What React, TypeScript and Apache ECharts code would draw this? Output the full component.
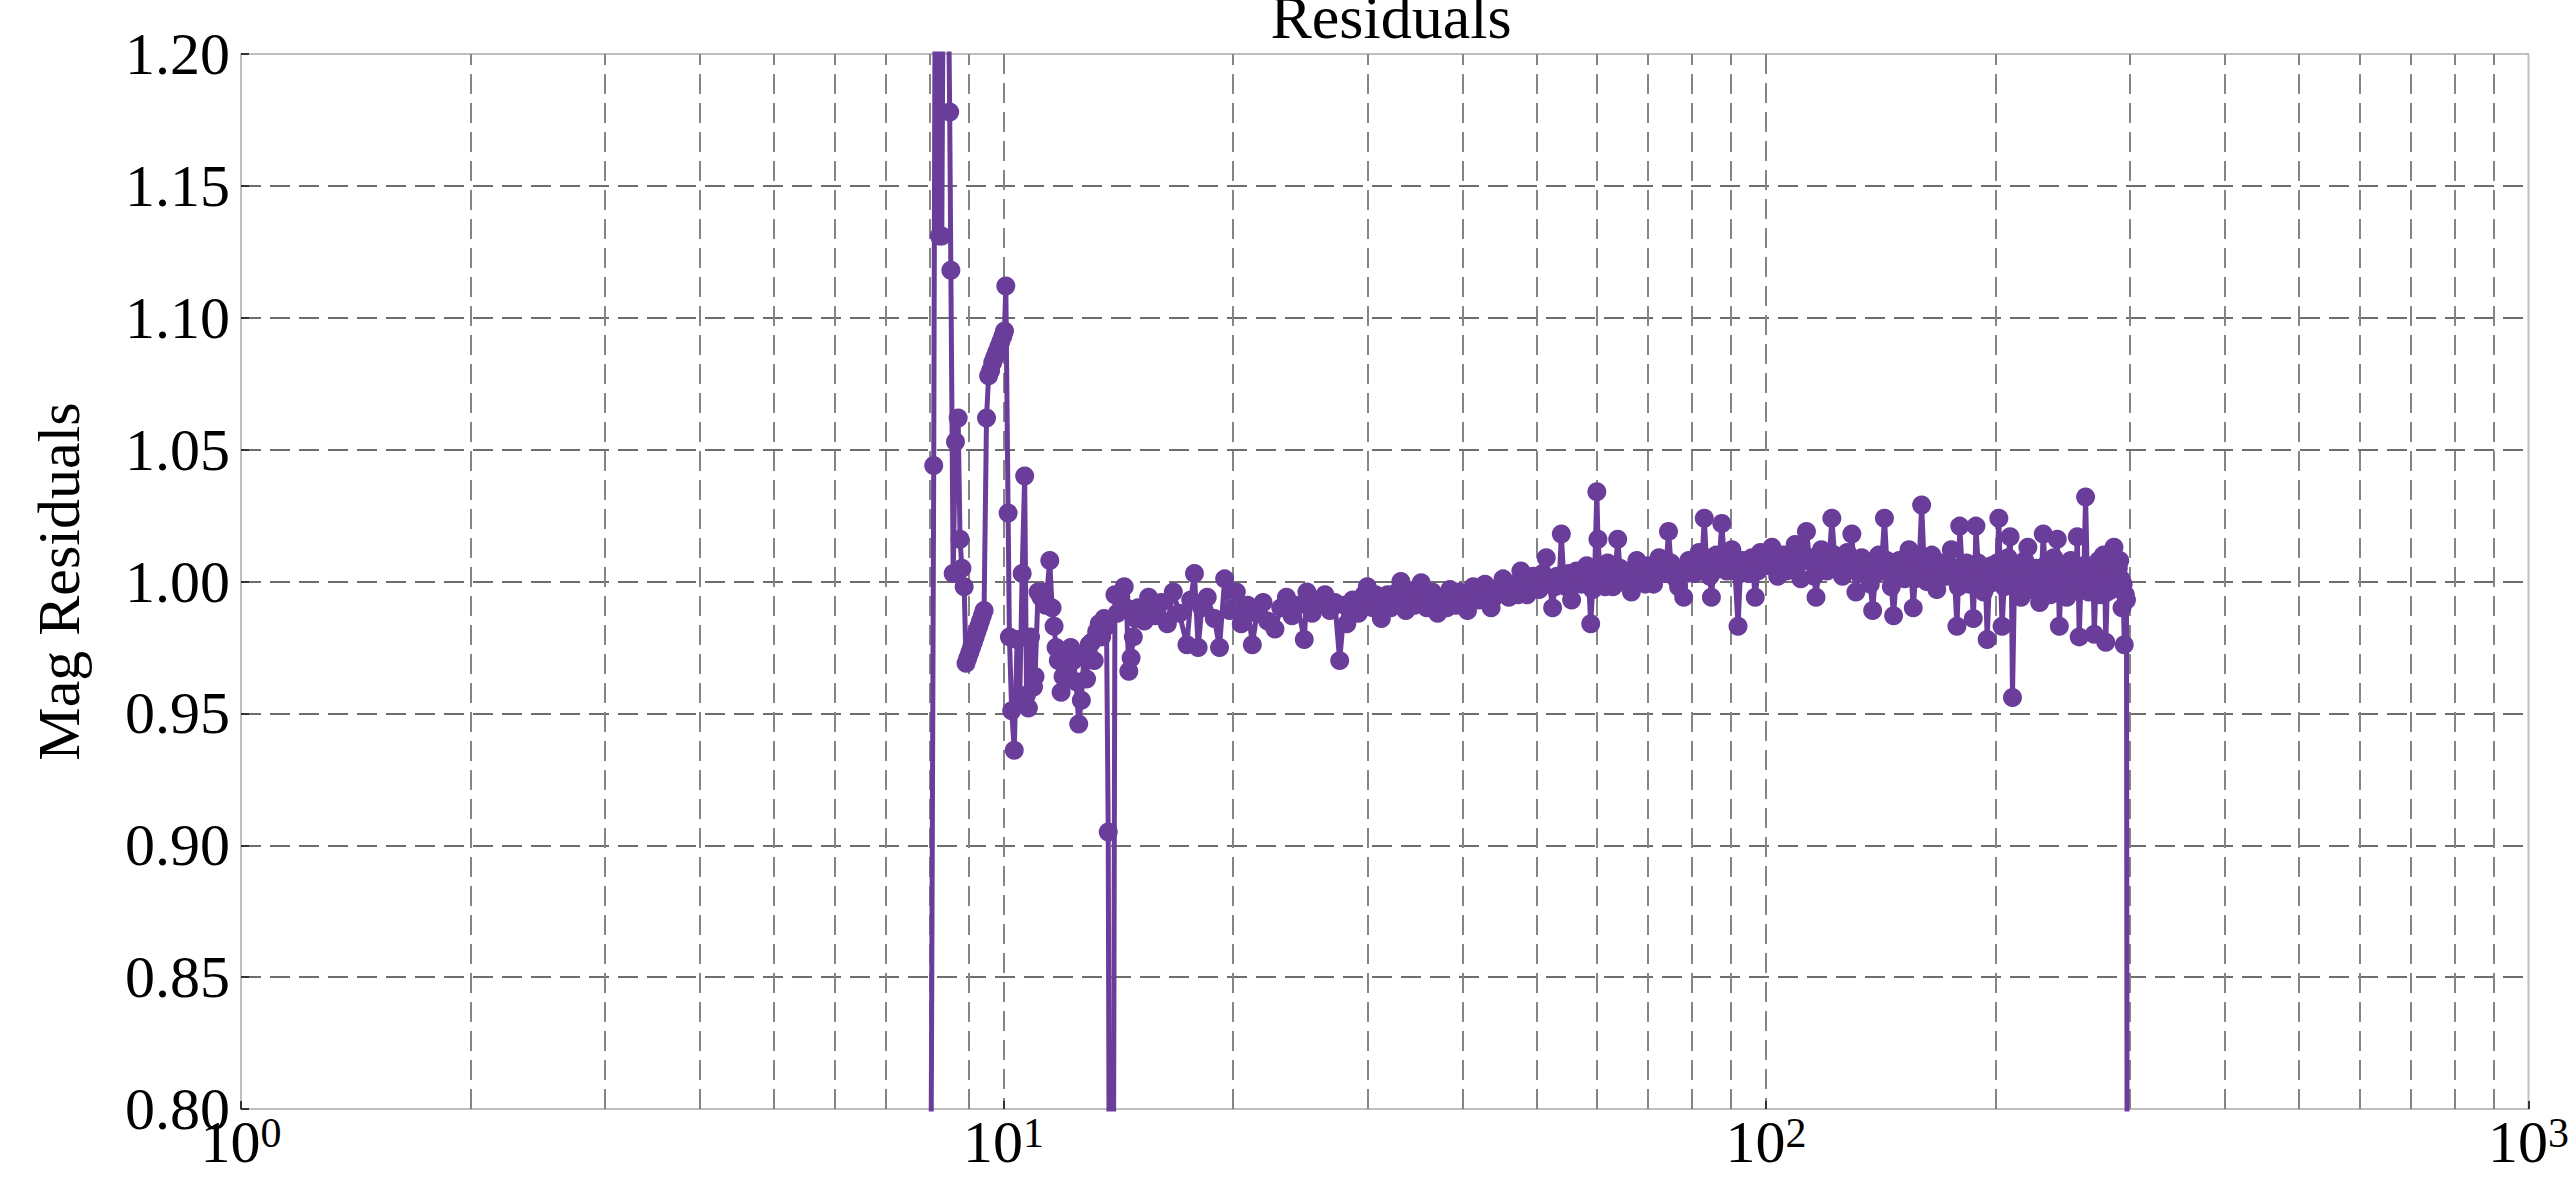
import React, { useEffect, useRef } from "react";
import * as echarts from "echarts";

const chartTitle = "Residuals";
const yAxisTitle = "Mag Residuals";

// ---- low-x part (x < 15): few points, large scatter ----
const lowX = [
  7.98, 8.1, 8.17, 8.24, 8.3, 8.38, 8.5, 8.53, 8.59, 8.65, 8.72, 8.77, 8.82, 8.88,
  8.93, 8.98, 9.03, 9.08, 9.13, 9.18, 9.23, 9.28, 9.33, 9.38, 9.43,
  9.5, 9.56, 9.62, 9.68, 9.74, 9.8, 9.86, 9.92, 9.98, 10.03, 10.07,
  10.14, 10.18, 10.25, 10.33, 10.42, 10.5, 10.58, 10.66, 10.72, 10.78, 10.85, 10.95,
  11.0, 11.1, 11.2, 11.28, 11.36, 11.5, 11.58, 11.65, 11.72, 11.8, 11.9, 11.97,
  12.05, 12.15, 12.25, 12.35, 12.45, 12.55, 12.65, 12.75, 12.85, 12.95,
  13.05, 13.15, 13.25, 13.35, 13.45, 13.55, 13.65, 13.72, 13.85,
  14.0, 14.1, 14.25, 14.4, 14.5, 14.6, 14.7, 14.8, 14.9,
];
const lowY = [
  0.55, 1.044, 1.42, 1.131, 1.131, 1.36, 1.178, 1.118, 1.003, 1.053, 1.062, 1.016, 1.005, 0.998,
  0.969, 0.971, 0.973, 0.975, 0.977, 0.979, 0.981, 0.983, 0.985, 0.987, 0.989,
  1.062, 1.078, 1.08, 1.083, 1.085, 1.087, 1.089, 1.091, 1.093, 1.095, 1.112,
  1.026, 0.979, 0.951, 0.936, 0.978, 0.954, 1.003, 1.04, 0.957, 0.952, 0.979, 0.96,
  0.964, 0.996, 0.994, 0.996, 0.991, 1.008, 0.99, 0.983, 0.975, 0.97, 0.958, 0.964,
  0.972, 0.968, 0.975, 0.97, 0.962, 0.946, 0.955, 0.972, 0.963, 0.976,
  0.977, 0.97, 0.981, 0.984, 0.979, 0.986, 0.983, 0.905, 0.45,
  0.995, 0.988, 0.994, 0.998, 0.99, 0.966, 0.971, 0.979, 0.986,
];

// ---- middle part (15 <= x < 30) ----
const midX = [
  15.0, 15.3, 15.5, 15.8, 16.1, 16.4, 16.7, 17.0, 17.4, 17.6, 17.8, 18.0, 18.2, 18.5,
  18.9, 19.2, 19.5, 19.8, 20.2, 20.5, 20.9, 21.2, 21.5, 21.9, 22.2, 22.7, 23.1, 23.5,
  23.9, 24.3, 24.8, 25.0, 25.4, 25.8, 26.4, 26.8, 27.2, 27.6, 28.0, 28.2, 28.7, 29.2, 29.7,
];
const midY = [
  0.99, 0.985, 0.994, 0.987, 0.992, 0.984, 0.996, 0.988, 0.976, 0.993, 1.003, 0.975, 0.99, 0.994,
  0.986, 0.975, 1.001, 0.989, 0.996, 0.984, 0.991, 0.976, 0.988, 0.992, 0.985, 0.982, 0.99, 0.994,
  0.987, 0.991, 0.978, 0.996, 0.988, 0.993, 0.995, 0.989, 0.992, 0.97, 0.991, 0.984, 0.993, 0.988, 0.995,
];

// ---- high part (x >= 30): dense band ----
const highX = [
  30.0, 30.25, 30.5, 30.75, 31.0, 31.15, 31.3, 31.6, 31.9, 32.2, 32.5, 32.85, 33.2, 33.45,
  33.7, 34.0, 34.3, 34.6, 34.9, 35.1, 35.3, 35.6, 35.9, 36.2, 36.5, 36.8, 37.1, 37.45,
  37.8, 38.15, 38.5, 38.85, 39.2, 39.55, 39.9, 40.25, 40.6, 40.95, 41.3, 41.65, 42.0, 42.4,
  42.8, 43.2, 43.6, 44.0, 44.4, 44.8, 45.2, 45.6, 46.0, 46.45, 46.9, 47.3, 47.7, 48.15,
  48.6, 49.05, 49.5, 49.95, 50.4, 50.95, 51.5, 52.0, 52.5, 52.85, 53.2, 53.55, 53.9, 54.3,
  54.7, 55.15, 55.6, 56.0, 56.4, 56.85, 57.3, 57.75, 58.2, 58.55, 58.9, 59.25, 59.6, 60.0,
  60.2, 60.6, 61.0, 61.5, 62.0, 62.5, 63.0, 63.45, 63.9, 64.35, 64.8, 65.3, 65.8, 66.2,
  66.6, 67.15, 67.7, 68.3, 68.9, 69.45, 70.0, 70.6, 71.2, 71.8, 72.4, 73.0, 73.6, 74.05,
  74.5, 75.05, 75.6, 76.2, 76.8, 77.4, 78.0, 78.6, 79.2, 79.85, 80.5, 81.1, 81.7, 82.35,
  83.0, 83.5, 84.0, 84.4, 84.8, 85.4, 86.0, 86.75, 87.5, 88.15, 88.8, 89.5, 90.2, 91.05,
  91.9, 92.55, 93.2, 94.0, 94.8, 95.8, 96.8, 97.55, 98.3, 99.15, 100.0, 100.9, 101.8, 102.7,
  103.6, 104.5, 105.4, 106.35, 107.3, 108.25, 109.2, 110.15, 111.1, 112.05, 113.0, 114.0, 115.0, 115.65,
  116.3, 117.25, 118.2, 119.2, 120.2, 121.1, 122.0, 123.0, 124.0, 125.0, 126.0, 126.9, 127.8, 128.7,
  129.6, 130.4, 131.2, 132.35, 133.5, 134.75, 136.0, 137.0, 138.0, 139.25, 140.5, 141.75, 143.0, 144.0,
  145.0, 146.0, 147.0, 148.25, 149.5, 150.75, 152.0, 153.0, 154.0, 155.0, 156.0, 157.0, 158.0, 159.0,
  160.0, 161.25, 162.5, 163.75, 165.0, 166.25, 167.5, 168.75, 170.0, 171.25, 172.5, 173.75, 175.0, 176.5,
  178.0, 178.75, 179.5, 180.75, 182.0, 183.25, 184.5, 185.75, 187.0, 187.75, 188.5, 189.75, 191.0, 192.0,
  193.0, 194.0, 195.0, 196.25, 197.5, 198.75, 200.0, 201.0, 202.0, 203.0, 204.0, 205.25, 206.5, 207.75,
  209.0, 209.75, 210.5, 211.75, 213.0, 214.5, 216.0, 217.25, 218.5, 219.5, 220.5, 221.75, 223.0, 224.5,
  226.0, 227.25, 228.5, 229.75, 231.0, 232.25, 233.5, 234.75, 236.0, 237.25, 238.5, 239.75, 241.0, 241.75,
  242.5, 243.75, 245.0, 246.5, 248.0, 249.5, 251.0, 252.5, 254.0, 255.0, 256.0, 256.75, 257.5, 258.75,
  260.0, 261.25, 262.5, 263.75, 265.0, 266.25, 267.5, 268.5, 269.5, 270.75, 272.0, 273.25, 274.5, 275.75,
  277.0, 278.0, 279.0, 280.25, 281.5, 282.75, 284.0, 285.0, 286.0, 287.25, 288.5, 289.75, 291.0, 292.0,
  293.0, 294.0, 295.0, 296.0, 297.0, 298.0,
];
const highY = [
  0.998, 0.992, 0.99, 0.995, 0.994, 0.991, 0.986, 0.993, 0.995, 0.99, 0.991, 0.996, 1.0, 0.993,
  0.989, 0.994, 0.996, 0.991, 0.992, 0.997, 0.9995, 0.993, 0.99, 0.995, 0.996, 0.992, 0.988, 0.993,
  0.994, 0.99, 0.997, 0.993, 0.991, 0.996, 0.995, 0.992, 0.989, 0.995, 0.998, 0.994, 0.993, 0.997,
  0.999, 0.995, 0.99, 0.994, 0.996, 0.998, 1.001, 0.996, 0.994, 0.998, 0.999, 0.995, 1.004, 0.999,
  0.995, 1.0, 1.002, 0.998, 0.997, 1.003, 1.009, 0.999, 0.99, 0.998, 1.002, 0.999, 1.018, 1.001,
  0.998, 1.003, 0.993, 0.999, 1.004, 1.0, 0.999, 1.003, 1.006, 0.999, 0.984, 0.997, 1.003, 1.034,
  1.016, 1.004, 1.001, 0.998, 1.007, 1.002, 0.998, 1.004, 1.016, 1.005, 1.003, 1.0, 0.999, 1.004,
  0.996, 1.002, 1.008, 1.004, 1.002, 0.999, 1.006, 1.002, 0.999, 1.005, 1.009, 1.005, 1.003, 1.008,
  1.019, 1.007, 1.005, 1.001, 0.998, 1.004, 0.994, 1.003, 1.008, 1.005, 1.003, 1.007, 1.011, 1.006,
  1.024, 1.009, 1.006, 1.002, 0.994, 1.004, 1.01, 1.006, 1.022, 1.009, 1.004, 1.008, 1.012, 1.004,
  0.983, 1.003, 1.008, 1.005, 1.003, 1.009, 0.994, 1.004, 1.011, 1.007, 1.006, 1.01, 1.013, 1.006,
  1.002, 1.008, 1.01, 1.004, 1.005, 1.01, 1.014, 1.007, 1.001, 1.008, 1.019, 1.009, 1.007, 1.002,
  0.994, 1.004, 1.012, 1.006, 1.004, 1.009, 1.024, 1.01, 1.008, 1.004, 1.002, 1.006, 1.011, 1.008,
  1.018, 1.005, 0.996, 1.003, 1.009, 1.006, 1.004, 0.999, 0.989, 1.003, 1.01, 1.006, 1.024, 1.008,
  1.003, 0.998, 0.987, 1.002, 1.008, 1.004, 1.001, 1.006, 1.012, 1.003, 0.99, 1.001, 1.006, 1.01,
  1.029, 1.006, 1.0, 1.005, 1.01, 1.004, 0.997, 1.003, 1.007, 1.003, 1.002, 1.006, 1.012, 1.004,
  0.983, 0.998, 1.021, 1.006, 1.003, 1.007, 0.999, 1.004, 0.986, 0.999, 1.021, 1.007, 1.004, 1.0,
  0.996, 1.001, 0.978, 0.999, 1.006, 1.003, 1.001, 1.007, 1.024, 1.002, 0.983, 0.998, 1.004, 1.009,
  1.017, 1.004, 0.956, 0.999, 1.002, 1.006, 0.994, 1.002, 1.008, 1.004, 1.013, 1.003, 0.997, 1.004,
  1.005, 1.0, 0.992, 1.003, 1.018, 1.006, 1.0, 1.004, 0.995, 1.002, 1.009, 1.004, 1.016, 1.001,
  0.983, 0.999, 1.003, 1.006, 0.994, 1.001, 1.008, 1.003, 0.998, 1.005, 1.017, 1.0, 0.979, 0.998,
  1.002, 1.006, 1.032, 1.004, 0.996, 1.002, 1.006, 1.0, 0.98, 0.998, 1.004, 1.008, 0.995, 1.002,
  1.01, 1.003, 0.977, 0.996, 1.003, 1.007, 0.997, 1.004, 1.013, 1.003, 0.998, 1.005, 1.008, 1.001,
  0.99, 0.999, 0.976, 0.995, 0.993, 0.6,
];

// minor (log) grid positions between the decades
const minorGridX = [
  2, 3, 4, 5, 6, 7, 8, 9,
  20, 30, 40, 50, 60, 70, 80, 90,
  200, 300, 400, 500, 600, 700, 800, 900,
];

const yMin = 0.8;
const yMax = 1.2;
const yStep = 0.05;
const xMin = 1;
const xMax = 1000;

const PURPLE = "#6a3d9a";
const GRID_GRAY = "#858585";
const FONT = "'Liberation Serif', 'DejaVu Serif', serif";

export default function App() {
  const ref = useRef<HTMLDivElement>(null);

  useEffect(() => {
    document.body.style.margin = "0";
    document.body.style.overflow = "hidden";
    const chart = echarts.init(ref.current as HTMLDivElement, null, { renderer: "svg" });
    const xs = [...lowX, ...midX, ...highX];
    const ys = [...lowY, ...midY, ...highY];
    const data = xs.map((x, i) => [x, ys[i]]);
    chart.setOption({
      animation: false,
      backgroundColor: "#ffffff",
      title: {
        text: chartTitle,
        left: 1391,
        textAlign: "center",
        top: -14,
        padding: 0,
        textStyle: { fontFamily: FONT, fontSize: 62, fontWeight: "normal", color: "#000" },
      },
      grid: {
        left: 241,
        right: 31,
        top: 54,
        bottom: 68,
        show: true,
        borderColor: "#bfbfbf",
        borderWidth: 2,
        backgroundColor: "transparent",
      },
      xAxis: {
        type: "log",
        logBase: 10,
        min: xMin,
        max: xMax,
        axisLine: { show: false },
        axisTick: { show: true, inside: true, length: 8, lineStyle: { color: "#333", width: 2 } },
        axisLabel: {
          showMinLabel: true,
          showMaxLabel: true,
          margin: 3,
          color: "#000",
          formatter: (v: number) => `{b|10}{s|${Math.round(Math.log10(v))}}`,
          rich: {
            b: { fontFamily: FONT, fontSize: 60, lineHeight: 60, color: "#000" },
            s: { fontFamily: FONT, fontSize: 42, lineHeight: 42, color: "#000", verticalAlign: "top" },
          },
        },
        splitLine: {
          show: true,
          showMinLine: false,
          showMaxLine: false,
          lineStyle: { color: GRID_GRAY, width: 2, type: [20, 9] },
        },
      },
      yAxis: {
        type: "value",
        min: yMin,
        max: yMax,
        interval: yStep,
        name: yAxisTitle,
        nameLocation: "middle",
        nameRotate: 90,
        nameGap: 152,
        nameTextStyle: { fontFamily: FONT, fontSize: 60, color: "#000" },
        axisLine: { show: false },
        axisTick: { show: true, inside: true, length: 8, lineStyle: { color: "#333", width: 2 } },
        axisLabel: {
          margin: 11,
          color: "#000",
          fontFamily: FONT,
          fontSize: 60,
          formatter: (v: number) => v.toFixed(2),
        },
        splitLine: {
          show: true,
          showMinLine: false,
          showMaxLine: false,
          lineStyle: { color: "#6e6e6e", width: 2, type: [20, 9] },
        },
      },
      series: [
        {
          type: "line",
          data,
          symbol: "circle",
          symbolSize: 19,
          showAllSymbol: true,
          clip: true,
          z: 3,
          lineStyle: { color: PURPLE, width: 5 },
          itemStyle: { color: PURPLE },
          emphasis: { disabled: true },
          markLine: {
            silent: true,
            z: 1,
            symbol: ["none", "none"],
            label: { show: false },
            emphasis: { disabled: true },
            lineStyle: { color: GRID_GRAY, width: 2, type: [20, 9] },
            data: minorGridX.map((v) => ({ xAxis: v })),
          },
        },
      ],
    });
    return () => chart.dispose();
  }, []);

  return <div ref={ref} style={{ width: 2572, height: 1177 }} />;
}
